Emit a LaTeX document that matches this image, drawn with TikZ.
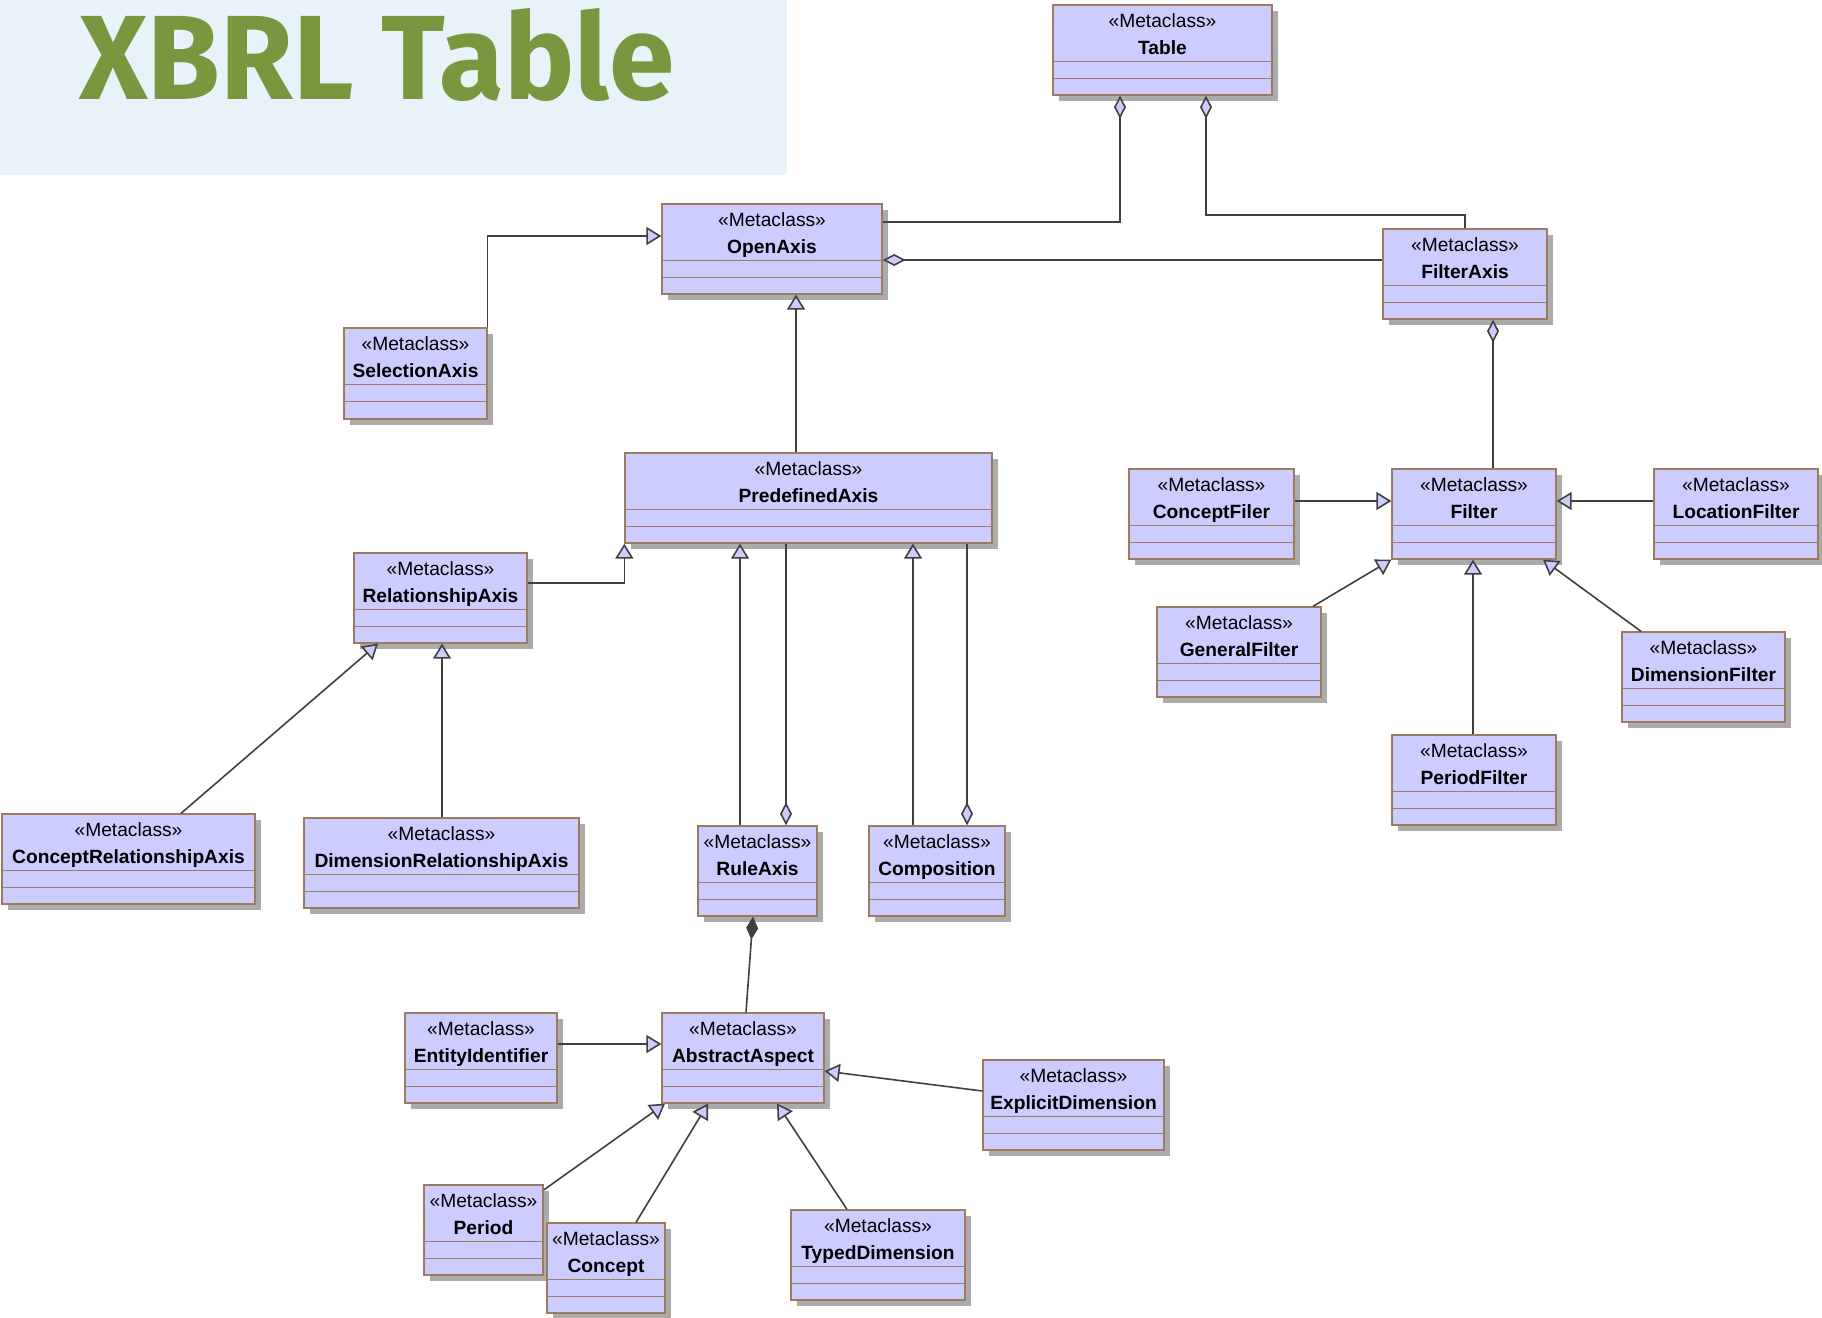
\documentclass[tikz,border=0pt]{standalone}
\usepackage{fontspec}
\setmainfont{Liberation Sans}
\newfontfamily\titlefont{Fira Sans}
\usetikzlibrary{arrows.meta}

\definecolor{mcfill}{HTML}{CCCCFF}
\definecolor{mcborder}{HTML}{9C7B5E}
\definecolor{mcshadow}{HTML}{ABABAB}
\definecolor{linegray}{HTML}{404040}
\definecolor{titlebg}{HTML}{E7F3F9}
\definecolor{titlegreen}{HTML}{7A963E}

\tikzset{
  mcbox/.style={draw=mcborder, fill=mcfill, line width=1.3pt, inner sep=0pt, rectangle},
  mcdiv/.style={draw=mcborder, line width=1.1pt},
  stereo/.style={anchor=base, inner sep=0pt, font=\fontsize{19.2}{22}\selectfont},
  cname/.style={anchor=base, inner sep=0pt, font=\fontsize{19.2}{22}\selectfont\bfseries},
  conn/.style={draw=linegray, line width=1.6pt},
  gen/.style={conn, -{Triangle[length=15pt, width=18pt, fill=mcfill]}},
  agg/.style={conn, {Diamond[length=23pt, width=12pt, fill=mcfill]}-},
  compo/.style={conn, {Diamond[length=23pt, width=12pt, fill=linegray]}-},
}

% metaclass box: name, left, top, right, bottom, class name
\newcommand\mclass[6]{%
  \fill[mcshadow] ({#2+6},{#3+6}) rectangle ({#4+6},{#5+6});
  \node[mcbox, minimum width={#4-#2}, minimum height={#5-#3}] (#1) at ({(#2+#4)/2},{(#3+#5)/2}) {};
  \draw[mcdiv] ([yshift=-57.5pt]#1.north west) -- ([yshift=-57.5pt]#1.north east);
  \draw[mcdiv] ([yshift=-74pt]#1.north west) -- ([yshift=-74pt]#1.north east);
  \node[stereo] at ([yshift=-23.5pt]#1.north) {«Metaclass»};
  \node[cname] at ([yshift=-50pt]#1.north) {#6};
}

\begin{document}
\begin{tikzpicture}[x=1pt, y=-1pt]
\useasboundingbox (0,0) rectangle (1822,1317);

% title banner
\fill[titlebg] (0,0) rectangle (787,175);
\node[anchor=base west, inner sep=0pt, text=titlegreen] (title) at (79,99)
  {\resizebox{595pt}{91pt}{\titlefont\bfseries XBRL Table}};

% classes
\mclass{tbl}{1053}{5}{1272}{95}{Table}
\mclass{oax}{662}{204}{882}{294}{OpenAxis}
\mclass{fax}{1383}{229}{1547}{319}{FilterAxis}
\mclass{sax}{344}{328}{487}{419}{SelectionAxis}
\mclass{pax}{625}{453}{992}{543}{PredefinedAxis}
\mclass{rax}{354}{553}{527}{643}{RelationshipAxis}
\mclass{cfil}{1129}{469}{1294}{559}{ConceptFiler}
\mclass{fil}{1392}{469}{1556}{559}{Filter}
\mclass{lfil}{1654}{469}{1818}{559}{LocationFilter}
\mclass{gfil}{1157}{607}{1321}{697}{GeneralFilter}
\mclass{dfil}{1622}{632}{1785}{722}{DimensionFilter}
\mclass{pfil}{1392}{735}{1556}{825}{PeriodFilter}
\mclass{crax}{2}{814}{255}{904}{ConceptRelationshipAxis}
\mclass{drax}{304}{818}{579}{908}{DimensionRelationshipAxis}
\mclass{rule}{698}{826}{817}{916}{RuleAxis}
\mclass{comp}{869}{826}{1005}{916}{Composition}
\mclass{eid}{405}{1013}{557}{1103}{EntityIdentifier}
\mclass{aasp}{662}{1013}{824}{1103}{AbstractAspect}
\mclass{edim}{983}{1060}{1164}{1150}{ExplicitDimension}
\mclass{per}{424}{1185}{543}{1275}{Period}
\mclass{con}{547}{1223}{665}{1313}{Concept}
\mclass{tdim}{791}{1210}{965}{1300}{TypedDimension}

% associations from Table
\draw[agg] (1120,0 |- tbl.south) -- (1120,222) -- (oax.east |- 0,222);
\draw[agg] (1206,0 |- tbl.south) -- (1206,215) -| (1465,0 |- fax.north);
\draw[agg] (oax.east |- 0,260) -- (fax.west |- 0,260);

% axis hierarchy
\draw[gen] (sax.north east) |- (oax.west |- 0,236);
\draw[gen] (796,0 |- pax.north) -- (796,0 |- oax.south);
\draw[gen] (rax.east |- 0,583) -| (pax.south west);
\draw[gen] (740,0 |- rule.north) -- (740,0 |- pax.south);
\draw[agg] (786,0 |- rule.north) -- (786,0 |- pax.south);
\draw[gen] (913,0 |- comp.north) -- (913,0 |- pax.south);
\draw[agg] (967,0 |- comp.north) -- (967,0 |- pax.south);
\draw[gen] (181,0 |- crax.north) -- (378,0 |- rax.south);
\draw[gen] (442,0 |- drax.north) -- (442,0 |- rax.south);

% aspects
\draw[compo] (753,0 |- rule.south) -- (746,0 |- aasp.north);
\draw[gen] (eid.east |- 0,1044) -- (aasp.west |- 0,1044);
\draw[gen] (edim.west |- 0,1091) -- (aasp.east |- 0,1071);
\draw[gen] (per.east |- 0,1190) -- (665,0 |- aasp.south);
\draw[gen] (636,0 |- con.north) -- (708,0 |- aasp.south);
\draw[gen] (847,0 |- tdim.north) -- (777,0 |- aasp.south);

% filters
\draw[agg] (1493,0 |- fax.south) -- (1493,0 |- fil.north);
\draw[gen] (cfil.east |- 0,501) -- (fil.west |- 0,501);
\draw[gen] (lfil.west |- 0,501) -- (fil.east |- 0,501);
\draw[gen] (1313,0 |- gfil.north) -- (fil.south west);
\draw[gen] (1473,0 |- pfil.north) -- (1473,0 |- fil.south);
\draw[gen] (1641,0 |- dfil.north) -- (1543,0 |- fil.south);
\end{tikzpicture}
\end{document}
